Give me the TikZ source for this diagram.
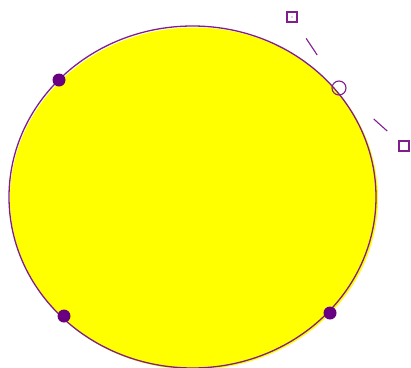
\documentclass[tikz,border=0pt]{standalone}
\usetikzlibrary{positioning}

\definecolor{curvepurple}{RGB}{128,30,140}
\definecolor{knotpurple}{RGB}{105,0,130}
\definecolor{discyellow}{RGB}{255,255,0}

\begin{document}
\begin{tikzpicture}[
  x=1pt, y=-1pt,
  curve/.style={draw=curvepurple, line width=1.3pt},
  knot/.style={circle, fill=knotpurple, inner sep=0pt, minimum size=13pt},
  selknot/.style={circle, draw=curvepurple, line width=1.1pt, inner sep=0pt, minimum size=14pt},
  handle/.style={rectangle, draw=curvepurple, line width=1.1pt, inner sep=0pt, minimum size=10pt},
  tangent/.style={draw=curvepurple, line width=1.1pt},
]
  \useasboundingbox (0,0) rectangle (411,367);

  % disc and its outline
  \fill[discyellow] (194,198.5) ellipse [x radius=184pt, y radius=171pt];
  \draw[curve] (192.5,197) ellipse [x radius=183.5pt, y radius=171pt];

  % knots on the curve
  \node[knot] (k1) at (59,80) {};
  \node[knot] (k2) at (64,316) {};
  \node[knot] (k3) at (330,313) {};
  \node[selknot] (ks) at (339,88) {};

  % control handles of the selected knot
  \node[handle] (h1) at (292,17) {};
  \fill[curvepurple] (h1.center) circle [radius=0.6pt];
  \node[handle] (h2) at (404,146) {};

  \draw[tangent, shorten <=19pt, shorten >=32pt] (h1) -- (ks);
  \draw[tangent, shorten <=39pt, shorten >=15pt] (ks) -- (h2);
\end{tikzpicture}
\end{document}
